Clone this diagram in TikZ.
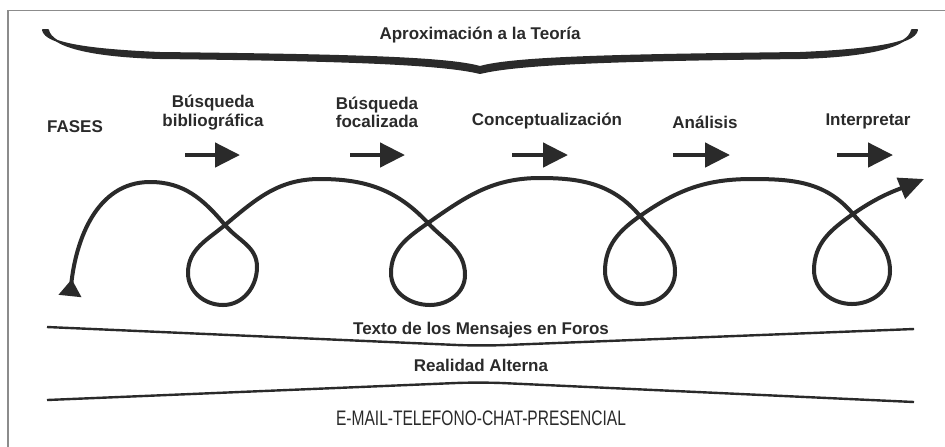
\documentclass[tikz,border=0pt]{standalone}
\usepackage{fontspec}
\setmainfont{Liberation Sans}
\newfontfamily\stretta[FakeStretch=0.74]{Liberation Sans}
\usepackage{tikz}
\definecolor{Inchiostro}{RGB}{42, 42, 42}
\definecolor{Grey50}{RGB}{140, 140, 140}
\usetikzlibrary{arrows.meta}
\tikzset{
    etichetta fase/.style = {anchor=base, inner sep=0pt, align=center, text=Inchiostro, font=\fontsize{8.5}{9.25}\selectfont\bfseries},
    freccia fase/.style = {line width=2.3pt, Inchiostro, arrows = {-{Triangle[length=12.5pt, width=12pt]}}},
    linea base/.style = {line width=1.2pt, Inchiostro, rounded corners=12pt},
    cornice/.style = {line width=0.6pt, Grey50}
}

\begin{document}
\begin{tikzpicture}[
        x=0.5pt, y=0.5pt,
        spirale/.style = {line width=2pt, Inchiostro, line cap=round,
            arrows = {{Triangle[reversed, length=8.5pt, width=11pt]}-{Triangle[length=12.5pt, width=11pt]}}}
    ]
    \useasboundingbox (0,0) rectangle (945,-446);
    \draw[cornice] (8,-470) -- (8,-10.5) -- (970,-10.5);

    % graffa in alto
    \fill[Inchiostro, draw=Inchiostro, line width=1pt, line join=round]
        (43,-30) .. controls (46,-44) and (90,-50) .. (160,-53)
        .. controls (330,-55) and (445,-57) .. (480,-67)
        .. controls (515,-57) and (630,-55) .. (800,-53)
        .. controls (870,-50) and (914,-44) .. (917,-30)
        -- (912,-30) .. controls (909,-46) and (870,-56) .. (800,-58)
        .. controls (630,-60) and (520,-63) .. (480,-73)
        .. controls (440,-63) and (330,-60) .. (160,-58)
        .. controls (90,-56) and (51,-46) .. (48,-30) -- cycle;
    \node[etichetta fase] (teoria) at (480,-39) {Aproximación a la Teoría};

    % fasi
    \node[etichetta fase] (fasi) at (75,-132) {FASES};
    \node[etichetta fase, anchor=center] (biblio) at (213,-112.5) {Búsqueda\\bibliográfica};
    \node[etichetta fase, anchor=center] (focal) at (377,-112.5) {Búsqueda\\focalizada};
    \node[etichetta fase] (concetto) at (547,-125) {Conceptualización};
    \node[etichetta fase] (analisi) at (705,-128) {Análisis};
    \node[etichetta fase] (interpr) at (868,-125) {Interpretar};

    \foreach \xa/\xb [count=\i] in {185/240, 350/405, 512/568, 673/730, 837/893} {
        \coordinate (fa\i) at (\xa,-155);
        \coordinate (fb\i) at (\xb,-155);
        \draw[freccia fase] (fa\i) -- (fb\i);
    }

    % spirale
    \coordinate (inizio) at (70,-296);
    \coordinate (a1) at (150,-182);
    \coordinate (c1) at (225,-225);
    \coordinate (r1) at (257,-267);
    \coordinate (b1) at (223,-305);
    \coordinate (l1) at (188,-273);
    \coordinate (a2) at (320,-179);
    \coordinate (c2) at (428,-223);
    \coordinate (r2) at (465,-275);
    \coordinate (b2) at (430,-305);
    \coordinate (l2) at (391,-273);
    \coordinate (a3) at (540,-178);
    \coordinate (c3) at (640,-216);
    \coordinate (r3) at (675,-272);
    \coordinate (b3) at (640,-304);
    \coordinate (l3) at (605,-271);
    \coordinate (a4) at (752,-179);
    \coordinate (c4) at (853,-214);
    \coordinate (r4) at (890,-271);
    \coordinate (b4) at (852,-304);
    \coordinate (l4) at (814,-270);
    \coordinate (fine) at (924,-179);

    \draw[spirale] (inizio) to[out=84, in=180] (a1) to[out=0, in=130] (c1)
        to[out=-50, in=90] (r1) to[out=-90, in=0] (b1) to[out=180, in=-90] (l1) to[out=90, in=-140] (c1)
        to[out=40, in=180] (a2) to[out=0, in=133] (c2)
        to[out=-47, in=90] (r2) to[out=-90, in=0] (b2) to[out=180, in=-90] (l2) to[out=90, in=-145] (c2)
        to[out=35, in=180] (a3) to[out=0, in=130] (c3)
        to[out=-50, in=90] (r3) to[out=-90, in=0] (b3) to[out=180, in=-90] (l3) to[out=90, in=-145] (c3)
        to[out=35, in=180] (a4) to[out=0, in=130] (c4)
        to[out=-50, in=90] (r4) to[out=-90, in=0] (b4) to[out=180, in=-90] (l4) to[out=90, in=-145] (c4)
        to[out=35, in=-158] (fine);

    % livelli in basso
    \coordinate (s1) at (47,-327);
    \coordinate (s2) at (480,-346);
    \coordinate (s3) at (914,-329);
    \coordinate (i1) at (47,-400);
    \coordinate (i2) at (480,-382);
    \coordinate (i3) at (914,-402);
    \draw[linea base] (s1) -- (s2) -- (s3);
    \draw[linea base] (i1) -- (i2) -- (i3);

    \node[etichetta fase] (foros) at (481,-334) {Texto de los Mensajes en Foros};
    \node[etichetta fase] (realta) at (481,-371) {Realidad Alterna};
    \node[etichetta fase, font=\fontsize{10.5}{12}\selectfont\stretta] (mezzi) at (481,-425) {E-MAIL-TELEFONO-CHAT-PRESENCIAL};
\end{tikzpicture}
\end{document}
